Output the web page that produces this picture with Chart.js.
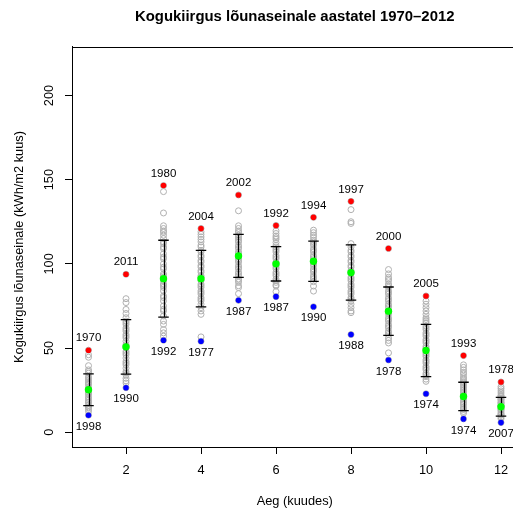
<!DOCTYPE html>
<html>
<head>
<meta charset="utf-8">
<script src="https://cdn.jsdelivr.net/npm/chart.js@4.4.0/dist/chart.umd.min.js"></script>
<style>
  html, body { margin: 0; padding: 0; background: #fff; overflow: hidden; }
  #wrap { width: 530px; height: 510px; }
</style>
</head>
<body>
<div id="wrap"><canvas id="c" width="530" height="510"></canvas></div>
<script>
// months on the x axis
const months = [1, 2, 3, 4, 5, 6, 7, 8, 9, 10, 11, 12];
const xTicks = [2, 4, 6, 8, 10, 12];
const yTicks = [0, 50, 100, 150, 200];

// monthly mean and standard deviation (kWh/m2)
const meanVals = [25.2, 50.7, 91.2, 91.2, 104.7, 100, 101.5, 94.8, 71.9, 48.5, 21.2, 15.1];
const sdVals = [9.45, 16.2, 22.8, 16.75, 12.8, 10.2, 11.95, 16.4, 14.35, 15.5, 8.45, 5.6];

// extremes and the years they happened
const maxVals = [48.7, 93.8, 146.5, 121, 140.9, 122.8, 127.6, 137.1, 109.1, 80.9, 45.5, 29.8];
const maxYears = [1970, 2011, 1980, 2004, 2002, 1992, 1994, 1997, 2000, 2005, 1993, 1978];
const minVals = [10.1, 26.4, 54.6, 54, 78.3, 80.5, 74.5, 58, 42.9, 22.8, 7.9, 5.7];
const minYears = [1998, 1990, 1992, 1977, 1987, 1987, 1990, 1988, 1978, 1974, 1974, 2007];

// single years, one list per month
const yearVals = [
  [46, 44.5, 39.5, 37, 36, 35, 33, 32, 31, 30, 29, 28.5, 27, 26, 25, 24, 23, 22.5, 21, 20, 19, 18, 17.5, 16, 15, 14.5, 13.5, 12.3],
  [79.3, 77, 72.9, 70.5, 68, 66, 65, 64, 62, 61, 60, 58, 57, 56, 54, 52, 51, 50, 48, 47, 46, 44, 42, 41, 40, 38, 36, 35, 34, 32, 30.5, 29.2],
  [142.9, 130.2, 122.6, 121, 119.5, 118.7, 117, 115, 113, 112, 110, 109, 106, 104, 103, 100, 98, 97, 94, 93, 92, 90, 88, 87, 86, 84, 81, 80, 78, 75, 73, 72, 69, 66, 64, 61, 59, 57],
  [119, 117.5, 116, 114.5, 113, 111, 110, 108, 107, 105, 104, 102, 101, 99, 98, 96, 95, 93, 92, 90, 88, 87, 86, 84, 83, 82, 80, 79, 78, 76, 74, 72, 70, 56.6],
  [131.5, 122.6, 121, 119.5, 118.6, 117, 116, 115, 114, 113, 111, 110, 109, 107, 106, 105, 103, 102, 101, 99, 98, 97, 95, 94, 93, 91, 90, 89, 87, 85.9, 82.3],
  [119.6, 118, 116.5, 115.5, 114.5, 112.7, 111, 110, 109, 108, 107, 105, 104, 103, 101, 100, 99, 98, 97, 95, 94, 93, 91, 90, 89, 87.5, 86.8, 83.5],
  [120, 118.5, 117, 115.7, 114, 113, 112, 111, 109, 108, 107, 105, 104, 103, 101, 100, 99, 97, 96, 95, 93, 92, 91, 89.4, 86.8, 83.8],
  [132.2, 125, 124, 112, 110, 108, 107, 105, 104, 102, 101, 99, 98, 96, 95, 94, 92, 91, 90, 88, 87, 86, 84, 83, 82, 80, 79, 78, 76, 74, 72, 71],
  [96.6, 94, 92, 91, 90, 88, 87, 86, 84, 83, 82, 80, 79, 78, 76, 75, 74, 72, 71, 70, 68, 67, 66, 64, 63, 62, 60, 59, 58, 56, 54.5, 53, 47.1],
  [77.9, 76, 74, 72, 70, 68, 67, 66, 65, 63, 62, 61, 59, 58, 57, 55, 54, 53, 51, 50, 49, 47, 46, 45, 43, 42, 41, 39, 38, 37, 35, 34, 33, 31.5, 30.2],
  [40, 38.5, 37, 35.5, 34.6, 33, 32, 31, 30, 29, 28, 27, 26, 25, 24, 23, 22, 21, 20, 19, 18, 17, 16.5, 15, 14, 13.5, 12.3, 11.3],
  [27, 25.8, 24.5, 23.3, 22, 21.5, 21, 20, 19.5, 19, 18, 17.5, 17, 16, 15.5, 15, 14, 13.5, 13, 12, 11, 10.5, 10, 9, 8]
];

Chart.defaults.font.family = '"Liberation Sans", Arial, Helvetica, sans-serif';
Chart.defaults.color = '#000';

const greyPoints = [];
months.forEach((m, i) => {
  yearVals[i].concat([maxVals[i], minVals[i]]).forEach(v => greyPoints.push({ x: m, y: v }));
});

// error bars, box, rotated y labels and year labels
const extras = {
  id: 'extras',
  afterDatasetDraw(chart, args) {
    if (args.index !== 0) return;
    const ctx = chart.ctx, xs = chart.scales.x, ys = chart.scales.y;
    ctx.save();
    ctx.strokeStyle = '#000';
    ctx.lineWidth = 1.3;
    months.forEach((m, i) => {
      const px = Math.round(xs.getPixelForValue(m)) + 0.5;
      const top = ys.getPixelForValue(meanVals[i] + sdVals[i]);
      const bot = ys.getPixelForValue(meanVals[i] - sdVals[i]);
      const c0 = xs.getPixelForValue(m - 0.14), c1 = xs.getPixelForValue(m + 0.14);
      ctx.beginPath();
      ctx.moveTo(px, top); ctx.lineTo(px, bot);
      ctx.moveTo(c0, top); ctx.lineTo(c1, top);
      ctx.moveTo(c0, bot); ctx.lineTo(c1, bot);
      ctx.stroke();
    });
    ctx.restore();
  },
  afterDraw(chart) {
    const ctx = chart.ctx, a = chart.chartArea, xs = chart.scales.x, ys = chart.scales.y;
    ctx.save();
    ctx.strokeStyle = '#000';
    ctx.lineWidth = 1;
    ctx.strokeRect(Math.round(a.left) + 0.5, Math.round(a.top) + 0.5,
      Math.round(a.right - a.left), Math.round(a.bottom - a.top));
    ctx.fillStyle = '#000';
    ctx.font = '12.8px "Liberation Sans", Arial, sans-serif';
    ctx.textAlign = 'center';
    ctx.textBaseline = 'middle';
    yTicks.forEach(v => {
      ctx.save();
      ctx.translate(49, ys.getPixelForValue(v));
      ctx.rotate(-Math.PI / 2);
      ctx.fillText(String(v), 0, 0);
      ctx.restore();
    });
    ctx.font = '11.5px "Liberation Sans", Arial, sans-serif';
    months.forEach((m, i) => {
      const px = xs.getPixelForValue(m);
      ctx.fillText(String(maxYears[i]), px, ys.getPixelForValue(maxVals[i]) - 12);
      ctx.fillText(String(minYears[i]), px, ys.getPixelForValue(minVals[i]) + 11.5);
    });
    ctx.restore();
  }
};

new Chart(document.getElementById('c'), {
  type: 'scatter',
  data: {
    datasets: [
      {
        label: 'aastad',
        data: greyPoints,
        pointStyle: 'circle',
        pointRadius: 3,
        borderWidth: 1,
        borderColor: '#b0b0b0',
        backgroundColor: 'rgba(0,0,0,0)',
        order: 4
      },
      {
        label: 'max',
        data: months.map((m, i) => ({ x: m, y: maxVals[i] })),
        pointRadius: 2.8,
        borderWidth: 0,
        backgroundColor: '#ff0000',
        order: 2
      },
      {
        label: 'min',
        data: months.map((m, i) => ({ x: m, y: minVals[i] })),
        pointRadius: 2.8,
        borderWidth: 0,
        backgroundColor: '#0000ff',
        order: 2
      },
      {
        label: 'keskmine',
        data: months.map((m, i) => ({ x: m, y: meanVals[i] })),
        pointRadius: 3.7,
        borderWidth: 0,
        backgroundColor: '#00ff00',
        order: 1
      }
    ]
  },
  options: {
    responsive: false,
    animation: false,
    events: [],
    layout: { padding: { left: 0, right: 12.5, top: 0, bottom: 0 } },
    plugins: {
      legend: { display: false },
      tooltip: { enabled: false },
      title: {
        display: true,
        fullSize: false,
        text: 'Kogukiirgus lõunaseinale aastatel 1970–2012',
        font: { size: 14.9, weight: 'bold' },
        color: '#000',
        padding: { top: 8, bottom: 21.1 }
      }
    },
    scales: {
      x: {
        type: 'linear',
        min: 0.56,
        max: 12.44,
        afterBuildTicks: s => { s.ticks = xTicks.map(v => ({ value: v })); },
        afterFit: s => { s.height = 63; },
        grid: { drawOnChartArea: false, drawTicks: true, tickLength: 7, tickColor: '#000' },
        border: { display: true, color: '#000' },
        ticks: { font: { size: 12.8 }, padding: 9, maxRotation: 0, color: '#000' },
        title: { display: true, text: 'Aeg (kuudes)', font: { size: 12.8 }, padding: { top: 0, bottom: 1 } }
      },
      y: {
        type: 'linear',
        min: -8.8,
        max: 228.8,
        afterBuildTicks: s => { s.ticks = yTicks.map(v => ({ value: v })); },
        afterFit: s => { s.width = 72; },
        grid: { drawOnChartArea: false, drawTicks: true, tickLength: 7, tickColor: '#000' },
        border: { display: true, color: '#000' },
        ticks: { display: false },
        title: { display: true, text: 'Kogukiirgus lõunaseinale (kWh/m2 kuus)', font: { size: 12.8 }, padding: { top: 12, bottom: 0 } }
      }
    }
  },
  plugins: [extras]
});
</script>
</body>
</html>
